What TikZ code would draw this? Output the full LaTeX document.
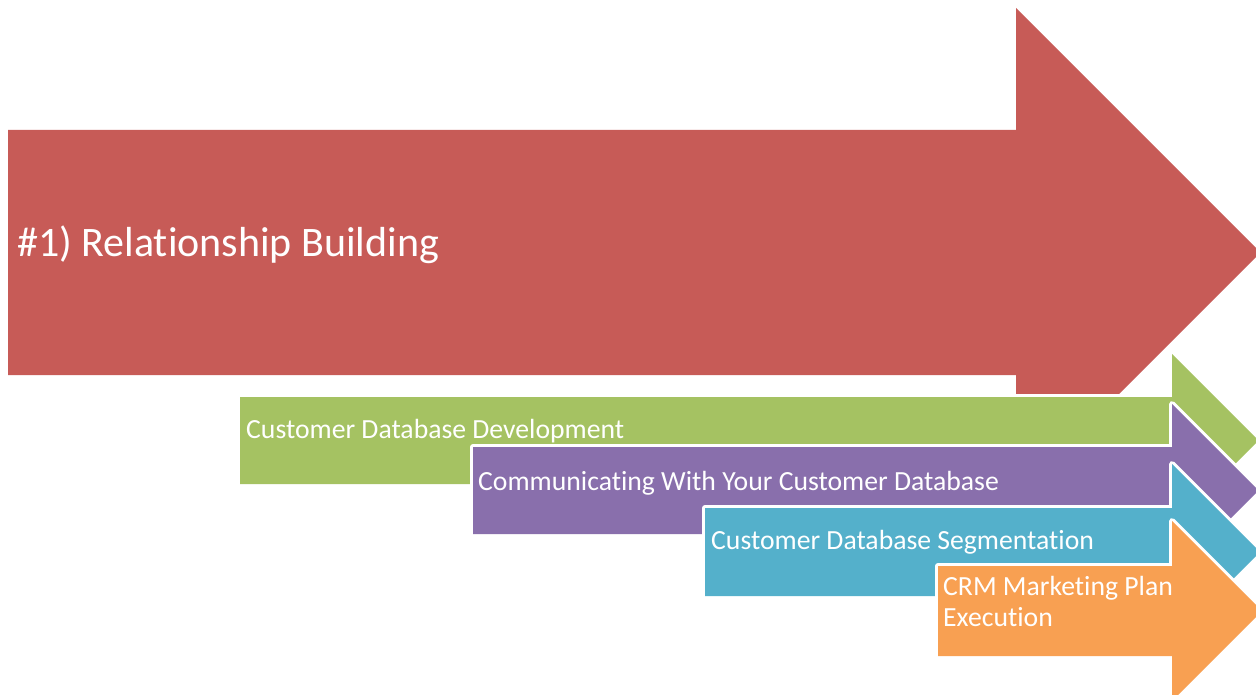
\documentclass[tikz,border=0pt]{standalone}
\usepackage{fontspec}
\setmainfont{Carlito}[Ligatures=NoCommon]
\definecolor{relred}{RGB}{199,91,87}
\definecolor{devgreen}{RGB}{165,194,98}
\definecolor{compurple}{RGB}{137,111,172}
\definecolor{segblue}{RGB}{84,176,203}
\definecolor{planorange}{RGB}{248,160,82}

\begin{document}
\begin{tikzpicture}[x=1pt, y=-1pt,
	steplabel/.style={text=white, inner sep=0pt, anchor=base west, align=left, font=\fontsize{27.7}{31}\selectfont},
	outlined/.style={preaction={draw=white, line width=6pt, line join=round}}]
	\useasboundingbox (0,0) rectangle (1256,695);
	% main arrow
	\path[fill=relred] (8,130) -- (1016,130) -- (1016,8) -- (1260.5,252.5) -- (1016,497) -- (1016,375) -- (8,375) -- cycle;
	\node[text=white, inner sep=0pt, anchor=base west, font=\fontsize{42}{50}\selectfont] (building) at (17,257) {\#1) Relationship Building};
	% sub arrows
	\path[fill=devgreen, outlined] (240,397) -- (1172,397) -- (1172,354) -- (1258.5,440.5) -- (1172,527) -- (1172,484) -- (240,484) -- cycle;
	\node[steplabel] (development) at (246,438) {Customer Database Development};
	\path[fill=compurple, outlined] (473,447) -- (1172,447) -- (1172,404) -- (1258.5,490.5) -- (1172,577) -- (1172,534) -- (473,534) -- cycle;
	\node[steplabel] (communicating) at (478,490) {Communicating With Your Customer Database};
	\path[fill=segblue, outlined] (705,508) -- (1172,508) -- (1172,464) -- (1260,552) -- (1172,640) -- (1172,596) -- (705,596) -- cycle;
	\node[steplabel] (segmentation) at (711,549) {Customer Database Segmentation};
	\path[fill=planorange, outlined] (938,566) -- (1172,566) -- (1172,521) -- (1262,611) -- (1172,701) -- (1172,656) -- (938,656) -- cycle;
	% two lines: base is the last line
	\node[steplabel] (execution) at (943,626) {CRM Marketing Plan\\Execution};
\end{tikzpicture}
\end{document}
